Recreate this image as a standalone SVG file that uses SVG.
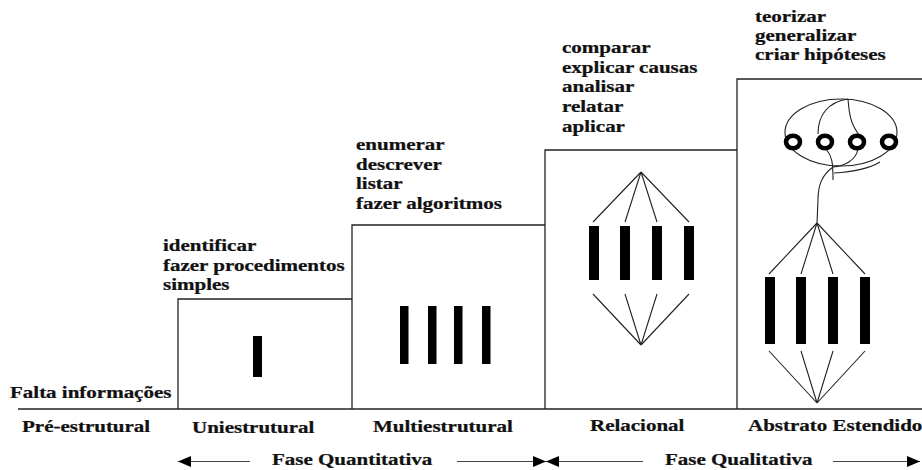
<svg xmlns="http://www.w3.org/2000/svg" width="922" height="470" viewBox="0 0 922 470">
<defs>
<style>
.t{font-family:"Liberation Serif","Times New Roman",serif;font-weight:bold;font-size:17.5px;fill:#111;stroke:#111;stroke-width:0.25}
.box{fill:none;stroke:#222;stroke-width:1.3}
.bar{fill:#000}
.thin{fill:none;stroke:#222;stroke-width:1.1}
.ring{fill:none;stroke:#000;stroke-width:4.5}
.arr{stroke:#444;stroke-width:1.2;fill:none}
</style>
<marker id="ah" viewBox="0 0 13 11" refX="13" refY="5.5" markerWidth="13" markerHeight="11" markerUnits="userSpaceOnUse" orient="auto-start-reverse">
<path d="M0,0 L13,5.5 L0,11 Z" fill="#000"/>
</marker>
</defs>
<rect width="922" height="470" fill="#fff"/>

<g id="baseline">
<path class="box" d="M18,409 H922"/>
</g>

<g id="pre-estrutural">
<text class="t" transform="translate(10,398) scale(1.2,1)">Falta informações</text>
<text class="t" transform="translate(22,432) scale(1.2,1)">Pré-estrutural</text>
</g>

<g id="uniestrutural">
<path class="box" d="M178,409 V299 H352"/>
<rect class="bar" x="253" y="336" width="9" height="41"/>
<text class="t" transform="translate(163,251) scale(1.2,1)"><tspan x="0" y="0">identificar</tspan><tspan x="0" y="19.7">fazer procedimentos</tspan><tspan x="0" y="39.4">simples</tspan></text>
<text class="t" transform="translate(192,433) scale(1.2,1)">Uniestrutural</text>
</g>

<g id="multiestrutural">
<path class="box" d="M352,409 V225 H545"/>
<rect class="bar" x="400" y="306" width="8.5" height="58"/>
<rect class="bar" x="428" y="306" width="8.5" height="58"/>
<rect class="bar" x="454" y="306" width="8.5" height="58"/>
<rect class="bar" x="482" y="306" width="8.5" height="58"/>
<text class="t" transform="translate(356,150) scale(1.2,1)"><tspan x="0" y="0">enumerar</tspan><tspan x="0" y="19.7">descrever</tspan><tspan x="0" y="39.4">listar</tspan><tspan x="0" y="59.1">fazer algoritmos</tspan></text>
<text class="t" transform="translate(373,432) scale(1.2,1)">Multiestrutural</text>
</g>

<g id="relacional">
<path class="box" d="M545,409 V150 H737"/>
<rect class="bar" x="589" y="226" width="10" height="54"/>
<rect class="bar" x="620" y="226" width="10" height="54"/>
<rect class="bar" x="652" y="226" width="10" height="54"/>
<rect class="bar" x="684" y="226" width="10" height="54"/>
<path class="thin" d="M641,172 L593,222 M641,172 L625,222 M641,172 L657,222 M641,172 L689,222"/>
<path class="thin" d="M593,294 L641,345 M625,294 L641,345 M657,294 L641,345 M689,294 L641,345"/>
<text class="t" transform="translate(562,53) scale(1.2,1)"><tspan x="0" y="0">comparar</tspan><tspan x="0" y="19.7">explicar causas</tspan><tspan x="0" y="39.4">analisar</tspan><tspan x="0" y="59.1">relatar</tspan><tspan x="0" y="78.8">aplicar</tspan></text>
<text class="t" transform="translate(590,431) scale(1.2,1)">Relacional</text>
</g>

<g id="abstrato-estendido">
<path class="box" d="M737,409 V79 H922"/>
<ellipse class="thin" cx="841" cy="132.5" rx="56" ry="33.5"/>
<path class="thin" d="M848,99 C828,102 818,115 818,134"/>
<path class="thin" d="M848,99 C849,112 850,124 860,136"/>
<path class="thin" d="M826,149 C832,156 833,162 833,180"/>
<path class="thin" d="M858,149 C856,160 845,166 833,167"/>
<path class="thin" d="M834,173 C852,172 870,168 880,162"/>
<path class="thin" d="M833,167 C822,175 818,185 818,200 L817,223"/>
<ellipse class="ring" cx="793" cy="142" rx="7" ry="6.3"/>
<ellipse class="ring" cx="825" cy="142" rx="7" ry="6.3"/>
<ellipse class="ring" cx="857" cy="142" rx="7" ry="6.3"/>
<ellipse class="ring" cx="889" cy="142" rx="7" ry="6.3"/>
<rect class="bar" x="765" y="277" width="10" height="67"/>
<rect class="bar" x="796" y="277" width="10" height="67"/>
<rect class="bar" x="828" y="277" width="10" height="67"/>
<rect class="bar" x="860" y="277" width="10" height="67"/>
<path class="thin" d="M817,223 L769,274 M817,223 L801,274 M817,223 L833,274 M817,223 L865,274"/>
<path class="thin" d="M769,351 L817,403 M801,351 L817,403 M833,351 L817,403 M865,351 L817,403"/>
<text class="t" transform="translate(755,22) scale(1.2,1)"><tspan x="0" y="0">teorizar</tspan><tspan x="0" y="19">generalizar</tspan><tspan x="0" y="38">criar hipóteses</tspan></text>
<text class="t" transform="translate(748,431) scale(1.2,1)">Abstrato Estendido</text>
</g>

<g id="fases">
<text class="t" transform="translate(272,465) scale(1.2,1)">Fase Quantitativa</text>
<text class="t" transform="translate(665,465) scale(1.2,1)">Fase Qualitativa</text>
</g>

<g id="connectors">
<line class="arr" x1="178" y1="461.5" x2="250" y2="461.5" marker-start="url(#ah)"/>
<line class="arr" x1="457" y1="461.5" x2="546" y2="461.5" marker-end="url(#ah)"/>
<line class="arr" x1="546" y1="461.5" x2="643" y2="461.5" marker-start="url(#ah)"/>
<line class="arr" x1="833" y1="461.5" x2="920" y2="461.5" marker-end="url(#ah)"/>
</g>
</svg>
